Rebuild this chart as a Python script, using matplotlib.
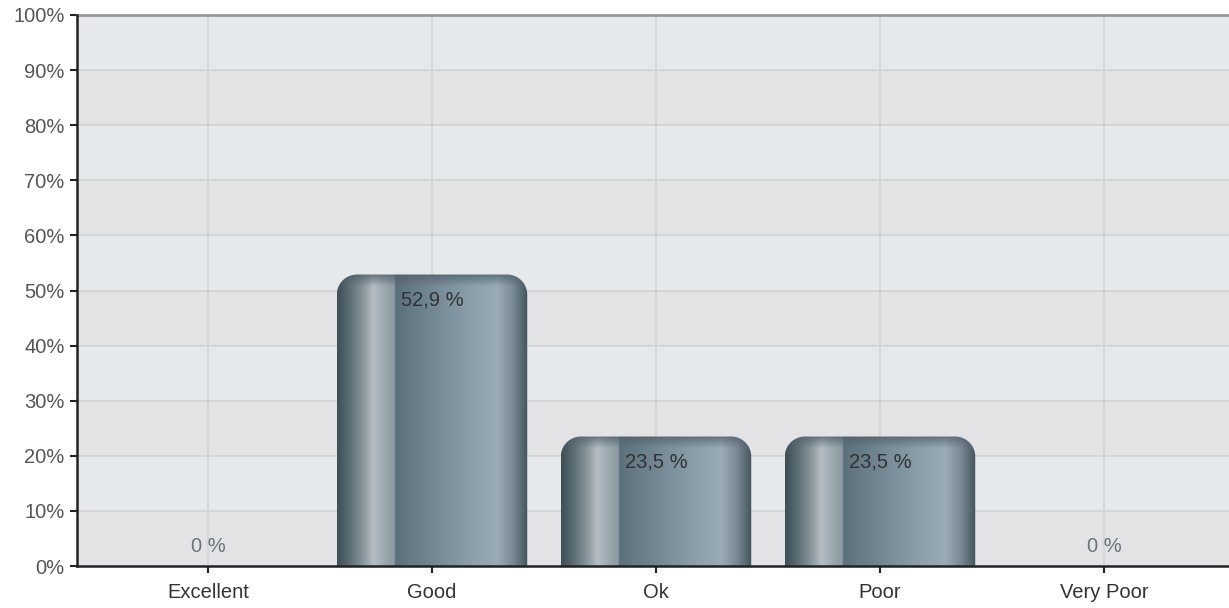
import numpy as np
import matplotlib
matplotlib.use("Agg")
import matplotlib.pyplot as plt
from matplotlib.path import Path
from matplotlib.patches import PathPatch, Rectangle
from matplotlib.colors import to_rgb

categories = ["Excellent", "Good", "Ok", "Poor", "Very Poor"]
values = [0.0, 52.9, 23.5, 23.5, 0.0]
value_labels = ["0 %", "52,9 %", "23,5 %", "23,5 %", "0 %"]
yticks = list(range(0, 101, 10))
ytick_labels = [f"{t}%" for t in yticks]

plt.rcParams['font.family'] = ['Liberation Sans', 'DejaVu Sans']

fig = plt.figure(figsize=(12.29, 6.08), dpi=100)
W, H = 1229, 608
ax = fig.add_axes([77 / W, 1 - 566 / H, (1229 - 77) / W, (566 - 15) / H])

x = np.arange(len(categories))
ax.set_xlim(-0.585, 4.558)
ax.set_ylim(0, 100)

# alternating background bands
for i in range(10):
    col = "#e6e9ec" if i % 2 == 1 else "#e3e3e5"
    ax.add_patch(Rectangle((-1, i * 10), 10, 10, facecolor=col, edgecolor="none", zorder=0))
ax.set_facecolor("#e6e9ec")

for t in yticks[1:-1]:
    ax.axhline(t, color="#d3d3d6", lw=1.2, zorder=1)
for xi in x:
    ax.axvline(xi, color="#d3d3d6", lw=1.2, zorder=1)

# horizontal gradient profile of bar
stops = [
    (0.00, "#3f4f58"),
    (0.05, "#55666f"),
    (0.12, "#7d8c94"),
    (0.19, "#b4bec4"),
    (0.27, "#93a1a8"),
    (0.30, "#8b99a0"),
    (0.305, "#5c707b"),
    (0.55, "#7a8e99"),
    (0.84, "#9aacb7"),
    (0.92, "#7b8c96"),
    (1.00, "#45555e"),
]
pos = np.array([s[0] for s in stops])
cols = np.array([to_rgb(s[1]) for s in stops])
nx = 200
xs = np.linspace(0, 1, nx)
profile = np.stack([np.interp(xs, pos, cols[:, c]) for c in range(3)], axis=1)

bar_w = 0.85
rx = 0.09
ry_px = 20
px_per_y = 551 / 100.0
ry = ry_px / px_per_y


def rounded_top_path(x0, x1, top):
    r_y = min(ry, top)
    verts = [(x0, 0), (x1, 0), (x1, top - r_y)]
    th = np.linspace(0, np.pi / 2, 20)
    # right corner
    cx, cy = x1 - rx, top - r_y
    for t in th:
        verts.append((cx + rx * np.cos(t), cy + r_y * np.sin(t)))
    cx = x0 + rx
    for t in th:
        verts.append((cx - rx * np.sin(t), cy + r_y * np.cos(t)))
    verts.append((x0, 0))
    verts.append((x0, 0))
    codes = [Path.MOVETO] + [Path.LINETO] * (len(verts) - 2) + [Path.CLOSEPOLY]
    return Path(verts, codes)


for xi, v in zip(x, values):
    if v <= 0:
        continue
    x0, x1 = xi - bar_w / 2, xi + bar_w / 2
    ny = 300
    img = np.repeat(profile[None, :, :], ny, axis=0)
    # vertical darkening near top (cap)
    ys = np.linspace(v, 0, ny)
    dist_px = (v - ys) * px_per_y
    cap = np.clip(1 - dist_px / 12.0, 0, 1)
    capcol = np.array(to_rgb("#4e5f69"))
    # highlight area starts below cap; darken region left of x=0.3 near top
    img = img * (1 - 0.75 * cap[:, None, None]) + capcol * 0.75 * cap[:, None, None]
    im = ax.imshow(img, extent=(x0, x1, 0, v), aspect="auto", zorder=3,
                   interpolation="bilinear")
    patch = PathPatch(rounded_top_path(x0, x1, v), facecolor="none", edgecolor="none",
                      transform=ax.transData)
    ax.add_patch(patch)
    im.set_clip_path(patch)

for xi, v, lab in zip(x, values, value_labels):
    if v > 0:
        ax.annotate(lab, (xi, v), xytext=(0, -25), textcoords="offset pixels",
                    ha="center", va="center", fontsize=14.5, color="#2e3336", zorder=5)
    else:
        ax.annotate(lab, (xi, v), xytext=(0, 20), textcoords="offset pixels",
                    ha="center", va="center", fontsize=14.5, color="#6b747a", zorder=5)

ax.set_xticks(x)
ax.set_xticklabels(categories, fontsize=14.5, color="#333333")
ax.set_yticks(yticks)
ax.set_yticklabels(ytick_labels, fontsize=14.5, color="#555555")
ax.tick_params(axis="both", direction="out", length=5, width=1.5, color="#222222")
ax.tick_params(axis="x", pad=7)
ax.tick_params(axis="y", pad=4)

for side in ["left", "bottom"]:
    ax.spines[side].set_color("#222222")
    ax.spines[side].set_linewidth(1.8)
    ax.spines[side].set_zorder(6)
ax.spines["top"].set_color("#999999")
ax.spines["top"].set_linewidth(2)
ax.spines["right"].set_visible(False)

fig.savefig("out.png", dpi=100, facecolor="white")
